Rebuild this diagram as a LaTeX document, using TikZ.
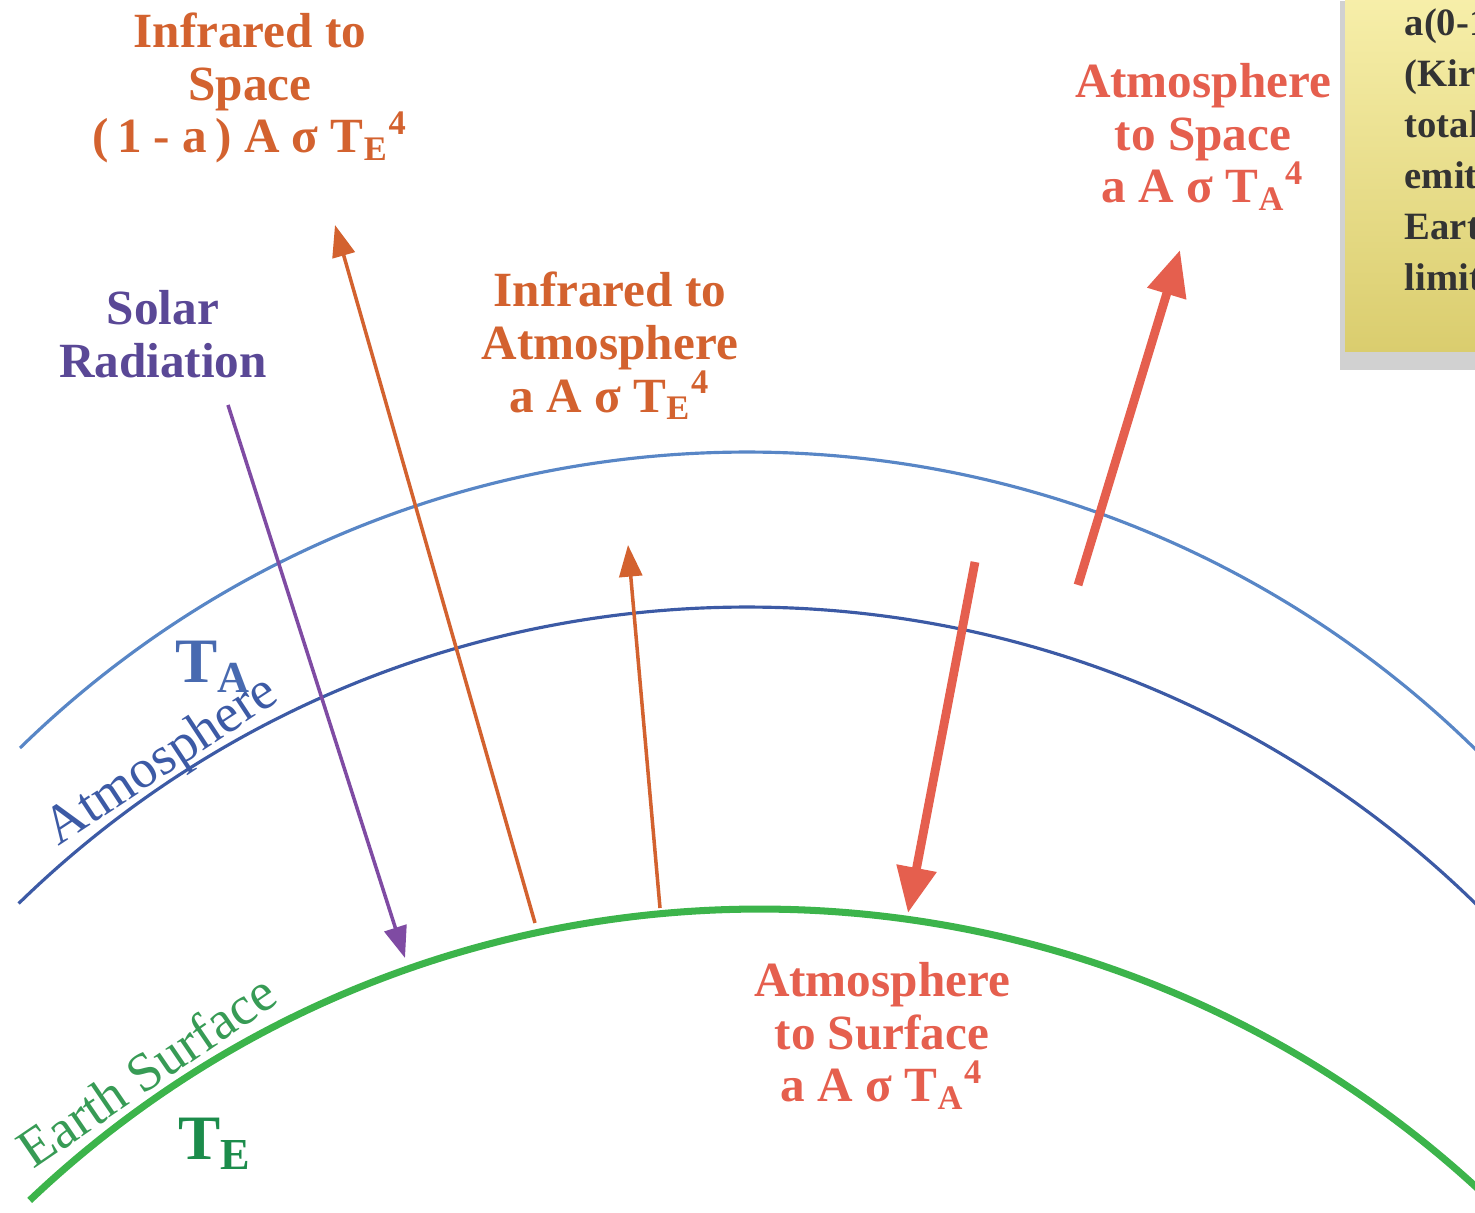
\documentclass[tikz,border=0pt]{standalone}
\usepackage{fontspec}
\setmainfont{Liberation Serif}
\usetikzlibrary{arrows.meta,shadows}
\definecolor{irorange}{RGB}{211,98,47}
\definecolor{coral}{RGB}{229,95,78}
\definecolor{solarpurple}{RGB}{127,75,163}
\definecolor{solartext}{RGB}{90,72,150}
\definecolor{blueout}{RGB}{88,134,198}
\definecolor{bluein}{RGB}{60,90,165}
\definecolor{tatext}{RGB}{72,106,176}
\definecolor{surfgreen}{RGB}{60,180,75}
\definecolor{earthtext}{RGB}{55,155,85}
\definecolor{tetext}{RGB}{28,140,75}
\definecolor{notetop}{RGB}{248,240,172}
\definecolor{notebot}{RGB}{218,205,110}
\definecolor{notetext}{RGB}{51,51,51}
\begin{document}
\begin{tikzpicture}[every node/.style={inner sep=0pt},
  lbl/.style={font=\bfseries\fontsize{14}{15}\selectfont, align=center},
  curvelbl/.style={font=\fontsize{15.5}{16}\selectfont, anchor=base},
  bigT/.style={font=\bfseries\fontsize{18}{18}\selectfont, anchor=base west},
  thinflux/.style={line width=1pt, -{Triangle[length=9pt, width=6.5pt]}},
  thickflux/.style={draw=coral, line width=2.5pt, -{Triangle[length=13pt, width=11pt]}},
  notetxt/.style={font=\bfseries\fontsize{11}{14.5}\selectfont, text=notetext, anchor=base west}]
\useasboundingbox (0,0) rectangle (14.75,12.13);
\clip (0,0) rectangle (14.75,12.13);
% atmosphere layers and surface
\draw[blueout, line width=0.9pt] (7.47,-2.80) ++(134.3:10.41) arc[start angle=134.3, end angle=45, radius=10.41];
\draw[bluein, line width=0.9pt] (7.47,-4.37) ++(134.3:10.43) arc[start angle=134.3, end angle=45, radius=10.43];
\draw[surfgreen, line width=2pt] (7.60,-7.57) ++(133.5:10.61) arc[start angle=133.5, end angle=44, radius=10.61];
\node[curvelbl, text=bluein, rotate=33.4] (atmolbl) at (1.70,4.40) {Atmosphere};
\node[curvelbl, text=earthtext, rotate=34.3] (earthlbl) at (1.57,1.27) {Earth Surface};
\node[bigT, text=tatext] (ta) at (1.75,5.30) {T\textsubscript{A}};
\node[bigT, text=tetext] (te) at (1.78,0.53) {T\textsubscript{E}};
% flux labels
\node[lbl, text=irorange] (irspace) at (2.50,11.25) {Infrared to\\Space\\(\,1 - a\,) A σ T\textsubscript{E}\textsuperscript{4}};
\node[lbl, text=solartext] (solar) at (1.63,8.79) {Solar\\Radiation};
\node[lbl, text=irorange] (iratm) at (6.10,8.67) {Infrared to\\Atmosphere\\a A σ T\textsubscript{E}\textsuperscript{4}};
\node[lbl, text=coral] (atmspace) at (12.03,10.76) {Atmosphere\\to Space\\a A σ T\textsubscript{A}\textsuperscript{4}};
\node[lbl, text=coral] (atmsurf) at (8.82,1.77) {Atmosphere\\to Surface\\a A σ T\textsubscript{A}\textsuperscript{4}};
% arrow ends
\coordinate (solar-a) at (2.28,8.08);   \coordinate (solar-b) at (4.05,2.55);
\coordinate (irspace-a) at (5.35,2.90); \coordinate (irspace-b) at (3.35,9.88);
\coordinate (iratm-a) at (6.60,3.05);   \coordinate (iratm-b) at (6.28,6.68);
\coordinate (atmspace-a) at (10.78,6.28); \coordinate (atmspace-b) at (11.80,9.63);
\coordinate (atmsurf-a) at (9.75,6.51); \coordinate (atmsurf-b) at (9.08,3.00);
\draw[thinflux, solarpurple] (solar-a) -- (solar-b);
\draw[thinflux, irorange] (irspace-a) -- (irspace-b);
\draw[thinflux, irorange] (iratm-a) -- (iratm-b);
\draw[thickflux] (atmspace-a) -- (atmspace-b);
\draw[thickflux] (atmsurf-a) -- (atmsurf-b);
% sticky note
\path[top color=notetop, bottom color=notebot,
  drop shadow={shadow xshift=-1.5pt, shadow yshift=-5pt, opacity=0.3, fill=black!60}]
  (13.45,8.61) rectangle (14.95,12.30);
\foreach \i/\w in {1/{a(0-1}, 2/{(Kirc}, 3/{total}, 4/{emit}, 5/{Earth}, 6/{limit}} {
  \node[notetxt] (note\i) at (14.04,{11.77-(\i-1)*0.51}) {\w};
}
\end{tikzpicture}
\end{document}
